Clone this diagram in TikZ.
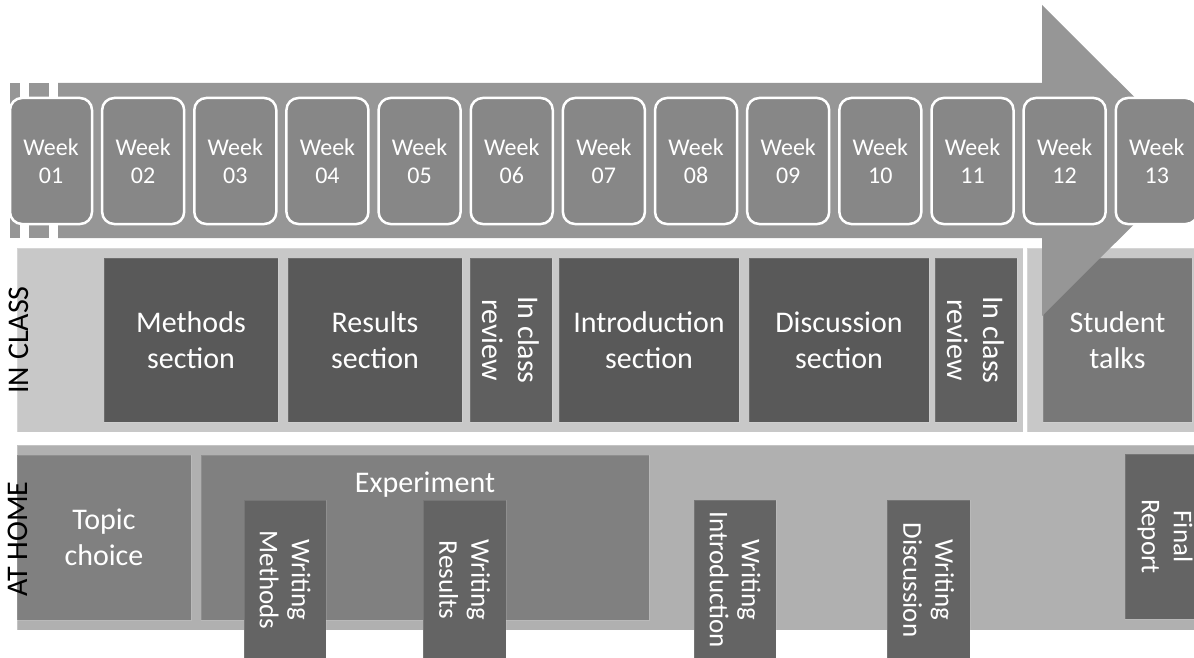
\documentclass[tikz,border=0pt]{standalone}
\usepackage{fontspec}
\setmainfont{Carlito}
\definecolor{bandgray}{RGB}{150,150,150}
\definecolor{weekgray}{RGB}{135,135,135}
\definecolor{classpanel}{RGB}{200,200,200}
\definecolor{homepanel}{RGB}{176,176,176}
\definecolor{sectiongray}{RGB}{89,89,89}
\definecolor{reviewgray}{RGB}{95,95,95}
\definecolor{talkgray}{RGB}{120,120,120}
\definecolor{taskgray}{RGB}{128,128,128}
\definecolor{writegray}{RGB}{100,100,100}

\begin{document}
\begin{tikzpicture}[x=1pt,y=-1pt,
    weekbox/.style={draw=white, line width=2.5pt, fill=weekgray, rounded corners=12pt,
        minimum width=82pt, minimum height=126pt, text=white, align=center,
        font=\fontsize{24}{28}\selectfont},
    block/.style={inner sep=0pt, text=white, align=center, font=\fontsize{30}{36}\selectfont,
        draw=white, draw opacity=0.12, line width=1pt},
    writebox/.style={block, fill=writegray, rotate=-90, font=\fontsize{27}{32}\selectfont},
    panel/.style={draw=white, draw opacity=0.25, line width=1pt},
    rowlabel/.style={rotate=90, inner sep=0pt, font=\fontsize{30}{36}\selectfont}]

    \useasboundingbox (0,0) rectangle (1194,658);

    % Background panels
    \filldraw[panel, fill=classpanel] (17,248) rectangle (1023,432);
    \filldraw[panel, fill=classpanel] (1027,248) rectangle (1200,432);
    \filldraw[panel, fill=homepanel] (17,445) rectangle (1200,630);

    % In class blocks
    \node[block, fill=sectiongray, minimum width=174pt, minimum height=164pt] (methods) at (191,340) {Methods\\section};
    \node[block, fill=sectiongray, minimum width=174pt, minimum height=164pt] (results) at (375,340) {Results\\section};
    \node[block, fill=reviewgray, rotate=-90, minimum width=164pt, minimum height=82pt] (review1) at (511,340) {In class\\review};
    \node[block, fill=sectiongray, minimum width=180pt, minimum height=164pt] (intro) at (649,340) {Introduction\\section};
    \node[block, fill=sectiongray, minimum width=180pt, minimum height=164pt] (discussion) at (839,340) {Discussion\\section};
    \node[block, fill=reviewgray, rotate=-90, minimum width=164pt, minimum height=82pt] (review2) at (976,340) {In class\\review};
    \node[block, fill=talkgray, minimum width=149pt, minimum height=164pt] (talks) at (1117.5,340) {Student\\talks};

    % At home blocks
    \node[block, fill=taskgray, minimum width=174pt, minimum height=165pt] (topic) at (104,537.5) {Topic\\choice};
    \node[block, fill=taskgray, minimum width=448pt, minimum height=165pt,
        label={[block, draw=none, anchor=north, yshift=-17pt]north:Experiment}] (experiment) at (425,537.5) {};
    \node[writebox, minimum width=160pt, minimum height=82pt] (wmethods) at (285,580) {Writing\\Methods};
    \node[writebox, minimum width=160pt, minimum height=83pt] (wresults) at (464.5,580) {Writing\\Results};
    \node[writebox, minimum width=160pt, minimum height=82pt] (wintro) at (735,580) {Writing\\Introduction};
    \node[writebox, minimum width=160pt, minimum height=83pt] (wdiscussion) at (928.5,580) {Writing\\Discussion};
    \node[writebox, minimum width=165pt, minimum height=80pt] (report) at (1165,536.5) {Final\\Report};

    % Timeline arrow, broken at the left end
    \fill[bandgray] (10,83) rectangle (20,238);
    \fill[bandgray] (29,83) rectangle (49,238);
    \fill[bandgray] (58,83) -- (1042,83) -- (1042,5) -- (1198,160.5) -- (1042,316) -- (1042,238) -- (58,238) -- cycle;

    % Weeks
    \foreach \i in {1,...,13}
        \node[weekbox] (week\i) at ({51+92.15*(\i-1)},161) {Week\\\ifnum\i<10 0\fi\i};

    % Row labels
    \node[rowlabel] (inclass) at (19,340) {IN CLASS};
    \node[rowlabel] (athome) at (18,539) {AT HOME};
\end{tikzpicture}
\end{document}
